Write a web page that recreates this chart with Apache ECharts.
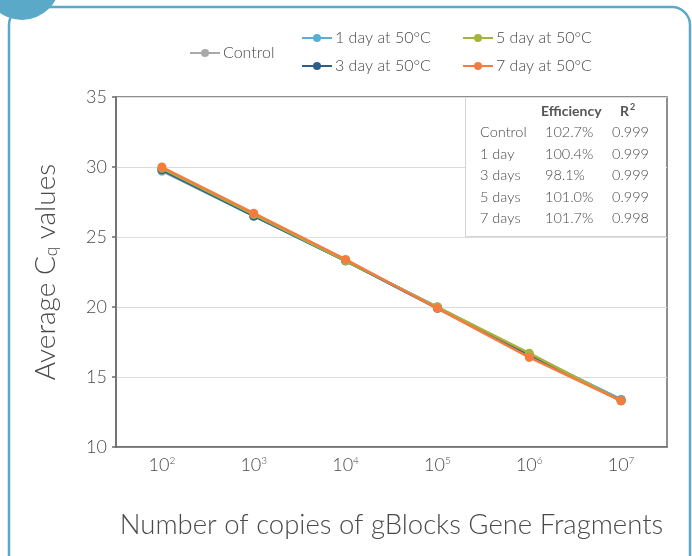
<!DOCTYPE html>
<html>
<head>
<meta charset="utf-8">
<script src="https://cdn.jsdelivr.net/npm/echarts@6/dist/echarts.min.js"></script>
<style>
html,body{margin:0;padding:0;background:#fff;}
#c{width:692px;height:556px;}
</style>
</head>
<body>
<div id="c"></div>
<script>
const exponents = ['2', '3', '4', '5', '6', '7'];
const seriesNames = ['Control', '1 day at 50°C', '3 day at 50°C', '5 day at 50°C', '7 day at 50°C'];
const controlValues = [29.7, 26.5, 23.3, 20.0, 16.6, 13.4];
const day1Values = [29.8, 26.5, 23.3, 20.0, 16.6, 13.4];
const day3Values = [29.8, 26.5, 23.3, 19.9, 16.6, 13.3];
const day5Values = [29.9, 26.6, 23.3, 20.0, 16.7, 13.3];
const day7Values = [30.0, 26.7, 23.4, 19.9, 16.4, 13.3];
const seriesColors = ['#a9a9a9', '#5aaed3', '#2b5f8e', '#a5b23c', '#f47c3f'];
const yTicks = [10, 15, 20, 25, 30, 35];
const tableRows = ['Control', '1 day', '3 days', '5 days', '7 days'];
const tableEff = ['102.7%', '100.4%', '98.1%', '101.0%', '101.7%'];
const tableR2 = ['0.999', '0.999', '0.999', '0.999', '0.998'];

const FONT = 'Lato';
const TXT = '#585858';
const allValues = [controlValues, day1Values, day3Values, day5Values, day7Values];

const chart = echarts.init(document.getElementById('c'));

const series = seriesNames.map((n, i) => ({
  name: n,
  type: 'line',
  data: allValues[i],
  symbol: 'circle',
  symbolSize: 9,
  lineStyle: { width: 2.5, color: seriesColors[i] },
  itemStyle: { color: seriesColors[i] },
  z: 2 + i,
  animation: false
}));

const tableGraphics = [];
tableGraphics.push({ type: 'rect', shape: { x: 465, y: 98, width: 201, height: 138 }, style: { fill: '#fff' }, z: 50 });
tableGraphics.push({ type: 'line', shape: { x1: 465.5, y1: 98, x2: 465.5, y2: 236 }, style: { stroke: '#d4d4d4', lineWidth: 1 }, z: 51 });
tableGraphics.push({ type: 'line', shape: { x1: 465, y1: 236.5, x2: 666, y2: 236.5 }, style: { stroke: '#d4d4d4', lineWidth: 1 }, z: 51 });
tableGraphics.push({ type: 'text', x: 541, y: 111, style: { text: 'Efficiency', font: 'bold 14px ' + FONT, fill: '#555', verticalAlign: 'middle' }, z: 52 });
tableGraphics.push({ type: 'text', x: 620, y: 111, style: { text: '{r|R}{s|2}', rich: { r: { font: 'bold 14px ' + FONT, fill: '#555' }, s: { font: 'bold 9px ' + FONT, fill: '#555', padding: [0, 0, 8, 1] } }, verticalAlign: 'middle' }, z: 52 });
const rowY = [132, 154, 175, 197, 218];
tableRows.forEach((r, i) => {
  tableGraphics.push({ type: 'text', x: 480, y: rowY[i], style: { text: r, font: '300 14.5px ' + FONT, fill: '#4a4a4a', verticalAlign: 'middle' }, z: 52 });
  tableGraphics.push({ type: 'text', x: 545, y: rowY[i], style: { text: tableEff[i], font: '300 14.5px ' + FONT, fill: '#4a4a4a', verticalAlign: 'middle' }, z: 52 });
  tableGraphics.push({ type: 'text', x: 612, y: rowY[i], style: { text: tableR2[i], font: '300 14.5px ' + FONT, fill: '#4a4a4a', verticalAlign: 'middle' }, z: 52 });
});

const legendCommon = {
  itemWidth: 30, itemHeight: 10, itemGap: 10,
  textStyle: { fontFamily: FONT, fontWeight: 300, fontSize: 16, color: '#4a4a4a', padding: [0, 0, 0, -2] },
  selectedMode: false
};

const option = {
  animation: false,
  backgroundColor: '#fff',
  color: seriesColors,
  legend: [
    Object.assign({}, legendCommon, { data: [seriesNames[0]], left: 184, top: 40 }),
    Object.assign({}, legendCommon, { data: [seriesNames[1], seriesNames[2]], left: 296, top: 25, orient: 'vertical', itemGap: 12 }),
    Object.assign({}, legendCommon, { data: [seriesNames[3], seriesNames[4]], left: 457, top: 25, orient: 'vertical', itemGap: 12 })
  ],
  grid: { left: 116, right: 25, top: 97, bottom: 109, show: true, borderColor: '#6b6b6b', borderWidth: 1.5, containLabel: false },
  xAxis: {
    type: 'category',
    data: exponents,
    boundaryGap: true,
    axisLine: { lineStyle: { color: '#6b6b6b', width: 1.5 } },
    axisTick: { alignWithLabel: true, length: 5, lineStyle: { color: '#6b6b6b', width: 1.5 } },
    axisLabel: {
      margin: 9,
      formatter: v => '{b|10}{s|' + v + '}',
      rich: {
        b: { fontFamily: FONT, fontWeight: 300, fontSize: 18, color: '#4a4a4a' },
        s: { fontFamily: FONT, fontWeight: 300, fontSize: 10, color: '#4a4a4a', padding: [0, 0, 9, 0] }
      }
    },
    name: 'Number of copies of gBlocks Gene Fragments',
    nameLocation: 'middle',
    nameGap: 64,
    nameTextStyle: { fontFamily: FONT, fontWeight: 300, fontSize: 27.5, color: '#4a4a4a' }
  },
  yAxis: {
    type: 'value',
    min: yTicks[0], max: yTicks[yTicks.length - 1], interval: 5,
    axisLine: { show: true, lineStyle: { color: '#6b6b6b', width: 1.5 } },
    axisTick: { show: true, length: 4, lineStyle: { color: '#6b6b6b', width: 1.5 } },
    splitLine: { lineStyle: { color: '#dcdcdc', width: 1.2 } },
    axisLabel: { margin: 9, fontFamily: FONT, fontWeight: 300, fontSize: 18, color: '#4a4a4a' },
    name: '{a|Average C}{s|q}{a| values}',
    nameLocation: 'middle',
    nameGap: 56,
    nameTextStyle: {
      rich: {
        a: { fontFamily: FONT, fontWeight: 300, fontSize: 28, color: '#4a4a4a' },
        s: { fontFamily: FONT, fontWeight: 300, fontSize: 17, color: '#4a4a4a', padding: [12, 0, 0, 0] }
      }
    }
  },
  graphic: [
    { type: 'rect', shape: { x: 9, y: 7, width: 681, height: 600, r: 18 }, style: { fill: 'none', stroke: '#5aa9c9', lineWidth: 2.5 }, z: 60, silent: true },
    { type: 'circle', shape: { cx: 22, cy: -18, r: 38 }, style: { fill: '#5aa9c9' }, z: 61, silent: true }
  ].concat(tableGraphics),
  series: series
};
chart.setOption(option);
</script>
</body>
</html>
